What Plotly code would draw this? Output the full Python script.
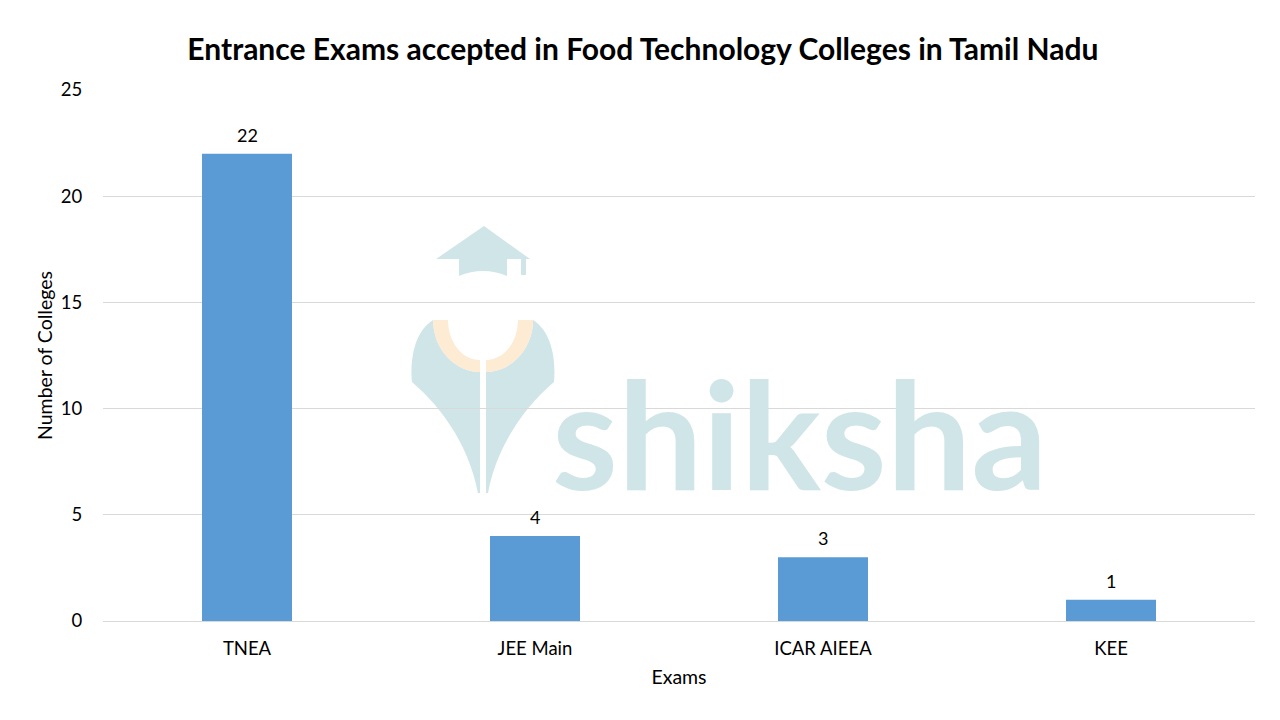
import plotly.graph_objects as go

exams = ["TNEA", "JEE Main", "ICAR AIEEA", "KEE"]
colleges = [22, 4, 3, 1]
y_ticks = [0, 5, 10, 15, 20, 25]

FONT = "Lato, 'Open Sans', sans-serif"

# plot area in screen pixels (page body adds an 8px offset)
PX0, PX1, PY0, PY1 = 103, 1255, 90, 621


def pp(x, y):
    # screen pixel -> paper coords, used only for the watermark drawing
    return "%.4f,%.4f" % ((x - PX0) / (PX1 - PX0), (PY1 - y) / (PY1 - PY0))


def path(*cmds):
    out = []
    for c in cmds:
        if isinstance(c, str):
            out.append(c)
        else:
            out.append(pp(*c))
    return " ".join(out)


fig = go.Figure()

fig.add_trace(go.Bar(
    x=exams,
    y=colleges,
    marker=dict(color="#5b9bd5", line=dict(width=0)),
    showlegend=False,
    hoverinfo="x+y",
))

# value labels above bars
for ex, val in zip(exams, colleges):
    fig.add_annotation(
        x=ex, y=val, text=str(val), showarrow=False,
        yanchor="bottom", yshift=6,
        font=dict(size=18, color="#000000", family=FONT),
    )

# --- shiksha watermark (decorative) ---
TEAL = "#cfe5e7"
ORANGE = "#fdebd3"
shapes = [
    # cap roof
    dict(type="path", path=path("M", (484, 226), "L", (530, 259), "L", (436, 259), "Z")),
    # cap body
    dict(type="path", path=path("M", (459, 259), "L", (507, 259), "L", (507, 276),
                                "Q", (483, 266), (459, 276), "Z")),
    # tassel
    dict(type="path", path=path("M", (521, 259), "L", (526, 259), "L", (526, 275),
                                "L", (521, 275), "Z")),
    # shield left half
    dict(type="path", path=path("M", (433, 320), "C", (414, 332), (410, 360), (412, 382),
                                "C", (445, 410), (470, 450), (478, 493),
                                "L", (480, 493), "L", (480, 372),
                                "C", (455, 372), (433, 349), (433, 320), "Z")),
    # shield right half
    dict(type="path", path=path("M", (533, 320), "C", (552, 332), (556, 360), (554, 382),
                                "C", (521, 410), (496, 450), (488, 493),
                                "L", (486, 493), "L", (486, 372),
                                "C", (511, 372), (533, 349), (533, 320), "Z")),
]
for s in shapes:
    s.update(xref="paper", yref="paper", fillcolor=TEAL, line=dict(width=0), layer="below")
fig.update_layout(shapes=shapes)

ring_left = path("M", (433, 320), "C", (433, 349), (455, 372), (480, 372),
                 "L", (480, 360), "C", (462, 360), (448, 342), (448, 320), "Z")
ring_right = path("M", (533, 320), "C", (533, 349), (511, 372), (486, 372),
                  "L", (486, 360), "C", (504, 360), (518, 342), (518, 320), "Z")
for rp in (ring_left, ring_right):
    fig.add_shape(type="path", path=rp, xref="paper", yref="paper",
                  fillcolor=ORANGE, line=dict(width=0), layer="below")

fig.add_annotation(
    text="shiksha", xref="paper", yref="paper", x=0.605, y=0.182,
    xanchor="center", yanchor="bottom", showarrow=False,
    font=dict(size=150, color=TEAL, family="Lato, sans-serif", weight=700),
)

fig.update_layout(
    width=1280, height=720,
    title=dict(
        text="<b>Entrance Exams accepted in Food Technology Colleges in Tamil Nadu</b>",
        x=0.496, xanchor="center", y=0.9417, yanchor="middle",
        font=dict(size=30, color="#000000", family=FONT),
    ),
    margin=dict(l=95, r=33, t=82, b=107),
    paper_bgcolor="white",
    plot_bgcolor="white",
    bargap=0.6875,
    font=dict(family=FONT, color="#000000"),
    xaxis=dict(
        title=dict(text="Exams", font=dict(size=19.5), standoff=12),
        tickfont=dict(size=18.5),
        showline=True, linecolor="#d9d9d9", linewidth=1,
        ticks="outside", ticklen=11, tickcolor="rgba(0,0,0,0)",
        showgrid=False,
    ),
    yaxis=dict(
        title=dict(text="Number of Colleges", font=dict(size=19.5), standoff=3),
        tickfont=dict(size=18.5),
        range=[0, 25],
        tickvals=y_ticks,
        showgrid=True, gridcolor="#d9d9d9", gridwidth=1,
        zeroline=False,
        ticks="outside", ticklen=16, tickcolor="rgba(0,0,0,0)",
    ),
)

fig.write_html("out.html")
